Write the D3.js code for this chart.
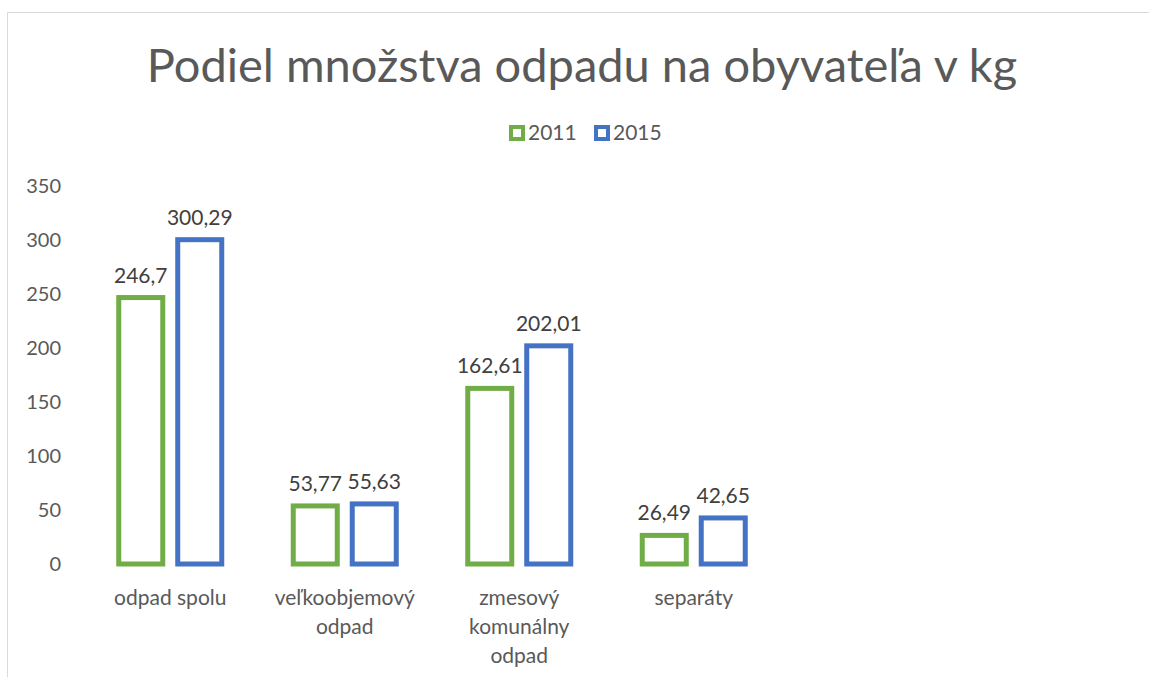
<!DOCTYPE html>
<html>
<head>
<meta charset="utf-8">
<script src="https://cdn.jsdelivr.net/npm/d3@7"></script>
<style>
  body { margin: 0; background: #fff; }
  svg { font-family: Lato, "Open Sans", sans-serif; }
</style>
</head>
<body>
<svg width="1149" height="677"></svg>
<script>
var categories = [["odpad spolu"], ["veľkoobjemový", "odpad"], ["zmesový", "komunálny", "odpad"], ["separáty"]];
var seriesNames = ["2011", "2015"];
var values2011 = [246.7, 53.77, 162.61, 26.49];
var values2015 = [300.29, 55.63, 202.01, 42.65];
var labels2011 = ["246,7", "53,77", "162,61", "26,49"];
var labels2015 = ["300,29", "55,63", "202,01", "42,65"];
var yTicks = [0, 50, 100, 150, 200, 250, 300, 350];
var colors = ["#70ad47", "#4472c4"];

var svg = d3.select("svg"),
    width = +svg.attr("width"),
    height = +svg.attr("height");

// chart border (cropped on right/bottom)
svg.append("path")
  .attr("d", "M7.5," + height + "V12.5H" + width)
  .attr("fill", "none")
  .attr("stroke", "#d9d9d9")
  .attr("stroke-width", 1);

svg.append("text")
  .attr("x", 582)
  .attr("y", 82)
  .attr("text-anchor", "middle")
  .attr("fill", "#595959")
  .attr("font-size", 47)
  .text("Podiel množstva odpadu na obyvateľa v kg");

var x = d3.scaleBand()
  .domain(d3.range(categories.length))
  .range([83, 781]);

var y = d3.scaleLinear()
  .domain([0, 350])
  .range([564, 186]);

var sub = d3.scaleBand()
  .domain(seriesNames)
  .range([x.bandwidth() / 2 - 51.5, x.bandwidth() / 2 + 51.5])
  .paddingInner(0.254);

// y axis labels
svg.append("g")
  .selectAll("text")
  .data(yTicks)
  .enter().append("text")
  .attr("x", 61)
  .attr("y", d => y(d))
  .attr("dy", "0.35em")
  .attr("text-anchor", "end")
  .attr("fill", "#595959")
  .attr("font-size", 20)
  .text(d => d);

var series = [values2011, values2015];
var labels = [labels2011, labels2015];

seriesNames.forEach((name, si) => {
  var g = svg.append("g");
  g.selectAll("rect")
    .data(series[si])
    .enter().append("rect")
    .attr("x", (d, i) => x(i) + sub(name))
    .attr("y", d => y(d))
    .attr("width", sub.bandwidth())
    .attr("height", d => y(0) - y(d))
    .attr("fill", "#fff")
    .attr("stroke", colors[si])
    .attr("stroke-width", 5);

  g.selectAll("text")
    .data(series[si])
    .enter().append("text")
    .attr("x", (d, i) => x(i) + sub(name) + sub.bandwidth() / 2)
    .attr("y", d => y(d) - 15)
    .attr("text-anchor", "middle")
    .attr("fill", "#404040")
    .attr("font-size", 21)
    .text((d, i) => labels[si][i]);
});

// category labels
var cat = svg.append("g")
  .selectAll("text")
  .data(categories)
  .enter().append("text")
  .attr("x", (d, i) => x(i) + x.bandwidth() / 2)
  .attr("y", 605)
  .attr("text-anchor", "middle")
  .attr("fill", "#595959")
  .attr("font-size", 21);

cat.selectAll("tspan")
  .data(d => d)
  .enter().append("tspan")
  .attr("x", function () { return this.parentNode.getAttribute("x"); })
  .attr("dy", (d, i) => i === 0 ? 0 : 29)
  .text(d => d);

// legend
var legend = svg.append("g")
  .selectAll("g")
  .data(seriesNames)
  .enter().append("g")
  .attr("transform", (d, i) => "translate(" + (509 + i * 85) + ",125)");

legend.append("rect")
  .attr("x", 2)
  .attr("y", 2)
  .attr("width", 12)
  .attr("height", 12)
  .attr("fill", "#fff")
  .attr("stroke", (d, i) => colors[i])
  .attr("stroke-width", 4);

legend.append("text")
  .attr("x", 19)
  .attr("y", 8)
  .attr("dy", "0.35em")
  .attr("fill", "#595959")
  .attr("font-size", 21)
  .text(d => d);
</script>
</body>
</html>
